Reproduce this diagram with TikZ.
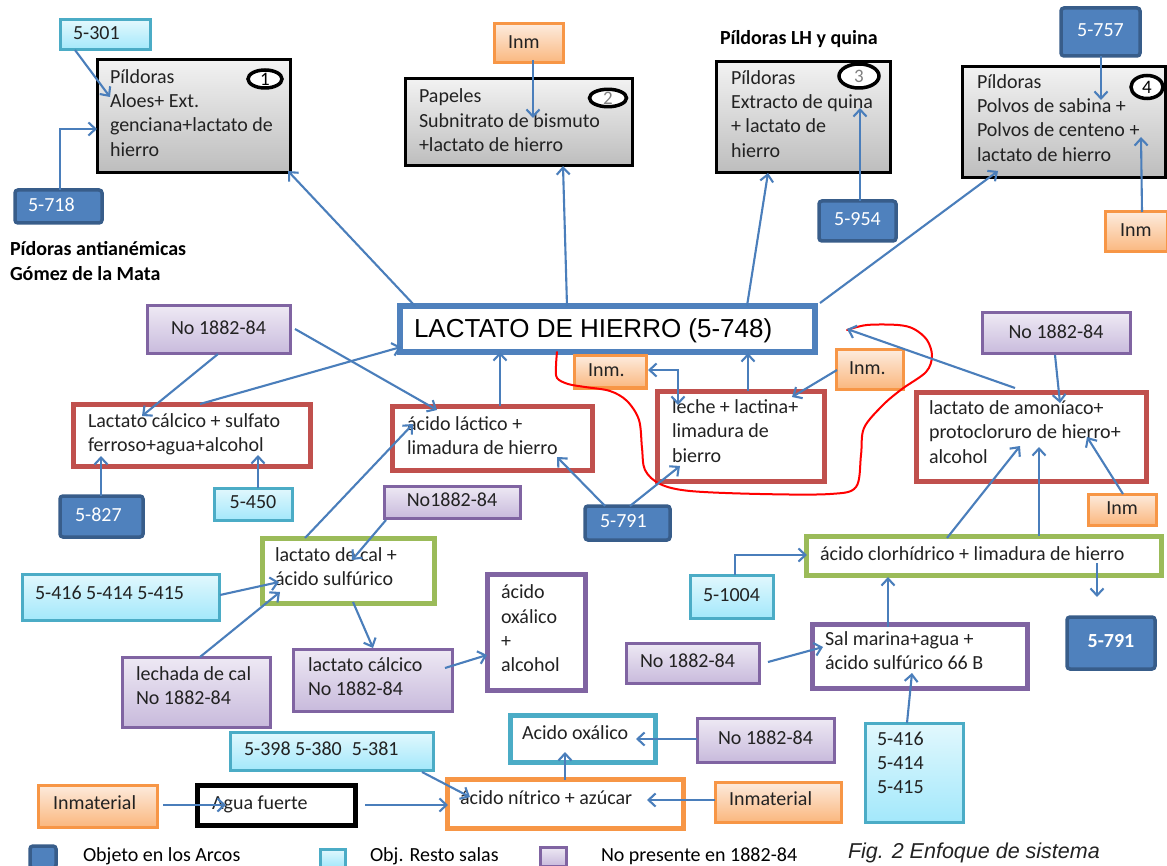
\documentclass[tikz,border=0pt]{standalone}
\usepackage{fontspec}
\setmainfont{Carlito}
\newfontfamily\arialf{Liberation Sans}
\usetikzlibrary{arrows.meta,calc,shapes.geometric}
\definecolor{arr}{HTML}{4A7EBB}
\definecolor{dkfill}{HTML}{4F81BD}
\definecolor{dkline}{HTML}{385D8A}
\definecolor{cytop}{HTML}{E2F8FD}
\definecolor{cybot}{HTML}{A3E8FB}
\definecolor{cyline}{HTML}{4BACC6}
\definecolor{putop}{HTML}{EEE9F4}
\definecolor{pubot}{HTML}{C8BADC}
\definecolor{puline}{HTML}{8064A2}
\definecolor{ortop}{HTML}{FDEBDD}
\definecolor{orbot}{HTML}{FAB77E}
\definecolor{orline}{HTML}{F79646}
\definecolor{grtop}{HTML}{F2F2F2}
\definecolor{grbot}{HTML}{BDBDBD}
\definecolor{redline}{HTML}{C0504D}
\definecolor{grnline}{HTML}{9BBB59}
\definecolor{txtc}{HTML}{222222}
\begin{document}
\begin{tikzpicture}[x=1pt,y=-1pt,
  every node/.style={inner sep=0pt,outer sep=0pt},
  darkbox/.style={anchor=north west,fill=dkfill,draw=dkline,line width=3.5pt,rounded corners=3pt},
  cyanbox/.style={anchor=north west,top color=cytop,bottom color=cybot,draw=cyline,line width=3pt},
  purbox/.style={anchor=north west,top color=putop,bottom color=pubot,draw=puline,line width=3pt},
  orabox/.style={anchor=north west,top color=ortop,bottom color=orbot,draw=orline,line width=3pt},
  graybox/.style={anchor=north west,top color=grtop,bottom color=grbot,draw=black,line width=3pt},
  framebox/.style={anchor=north west,fill=white,line width=5pt},
  txt/.style={anchor=west,align=left,text=txtc,font=\fontsize{20}{24.4}\selectfont,
    execute at begin node=\strut,execute at end node=\strut},
  ctxt/.style={txt,anchor=center,align=center},
  wtxt/.style={txt,text=white},
  wctxt/.style={ctxt,text=white},
  numc/.style={ellipse,draw=black,fill=white,line width=3.5pt,font=\fontsize{19}{19}\selectfont},
  ar/.style={draw=arr,line width=2.1pt,-{Straight Barb[length=7pt,width=13pt]}},
  arr2/.style={draw=arr,line width=2.1pt,{Straight Barb[length=7pt,width=13pt]}-{Straight Barb[length=7pt,width=13pt]}}
]
\useasboundingbox (0,0) rectangle (1167,866);
\fill[white] (0,0) rectangle (1167,866);

% ---------- top row ----------
\node[cyanbox,minimum width=90pt,minimum height=30pt] (b301) at (60,20) {};
\node[txt] (b301t) at ($(b301.west)+(13,0)$) {5-301};
\node[graybox,minimum width=193pt,minimum height=113pt] (p1) at (97,60) {};
\node[txt] (p1t) at ($(p1.west)+(13,0)$) {Píldoras\\Aloes+ Ext.\\genciana+lactato de\\hierro};
\node[numc,minimum width=34pt,minimum height=18pt] (c1) at (265,79) {1};
\node[darkbox,minimum width=87pt,minimum height=33pt] (b718) at (15,190) {};
\node[wtxt] (b718t) at ($(b718.west)+(13,0)$) {5-718};
\node[txt,text=black,font=\fontsize{20}{24.4}\selectfont\bfseries] (tit1) at (10,264.5) {Pídoras antianémicas\\Gómez de la Mata};

\node[orabox,minimum width=69pt,minimum height=39pt] (inm2) at (494,24) {};
\node[txt] (inm2t) at ($(inm2.west)+(14,0)$) {Inm};
\node[graybox,minimum width=227pt,minimum height=87pt] (p2) at (405,79) {};
\node[txt] (p2t) at ($(p2.west)+(14,1.5)$) {Papeles\\Subnitrato de bismuto\\+lactato de hierro};
\node[numc,minimum width=37pt,minimum height=17pt,text=gray] (c2) at (608,98) {2};

\node[txt,text=black,font=\fontsize{20}{24.4}\selectfont\bfseries] (tit2) at (720,40) {Píldoras LH y quina};
\node[graybox,minimum width=174pt,minimum height=111pt] (p3) at (716,62) {};
\node[txt] (p3t) at ($(p3.west)+(15,0)$) {Píldoras\\Extracto de quina\\+ lactato de\\hierro};
\node[numc,minimum width=40pt,minimum height=24pt,text=gray] (c3) at (859,76) {3};
\node[darkbox,minimum width=77pt,minimum height=40pt] (b954) at (819,201) {};
\node[wctxt] (b954t) at (b954.center) {5-954};

\node[darkbox,minimum width=79pt,minimum height=48pt] (b757) at (1061,8) {};
\node[wctxt] (b757t) at (b757.center) {5-757};
\node[graybox,minimum width=203pt,minimum height=111pt] (p4) at (962,67) {};
\node[txt] (p4t) at ($(p4.west)+(15,-1)$) {Píldoras\\Polvos de sabina +\\Polvos de centeno +\\lactato de hierro};
\node[numc,minimum width=32pt,minimum height=23pt] (c4) at (1147,87) {4};
\node[orabox,minimum width=62pt,minimum height=40pt] (inm4) at (1105,212) {};
\node[txt] (inm4t) at ($(inm4.west)+(15,0)$) {Inm};

% ---------- middle ----------
\node[framebox,draw=dkfill,line width=6pt,minimum width=415pt,minimum height=46pt] (main) at (400,306) {};
\node[anchor=base west,font=\arialf\fontsize{26}{30}\selectfont] (maint) at (414,338) {LACTATO DE HIERRO (5-748)};

\node[purbox,minimum width=143pt,minimum height=48pt] (no1) at (147,306) {};
\node[ctxt] (no1t) at (no1.center) {No 1882-84};
\node[framebox,draw=redline,minimum width=237pt,minimum height=62pt] (lcs) at (73,404) {};
\node[txt] (lcst) at ($(lcs.west)+(15,1)$) {Lactato cálcico + sulfato\\ferroso+agua+alcohol};
\node[darkbox,minimum width=83pt,minimum height=41pt] (b827) at (60,496) {};
\node[wtxt] (b827t) at ($(b827.west)+(15,0)$) {5-827};
\node[cyanbox,minimum width=78pt,minimum height=32pt] (b450) at (214,488) {};
\node[ctxt] (b450t) at (b450.center) {5-450};

\node[framebox,draw=redline,minimum width=200pt,minimum height=64pt] (ala) at (392,406) {};
\node[txt] (alat) at ($(ala.west)+(15,1)$) {ácido láctico +\\limadura de hierro};
\node[orabox,minimum width=72pt,minimum height=32pt] (inm5) at (574,356) {};
\node[txt] (inm5t) at ($(inm5.west)+(14,0)$) {Inm.};
\node[framebox,draw=redline,minimum width=167pt,minimum height=90pt] (lec) at (657,391) {};
\node[txt] (lect) at ($(lec.west)+(15,-1.5)$) {leche + lactina+\\limadura de\\bierro};
\node[orabox,minimum width=67pt,minimum height=39pt] (inm6) at (836,350) {};
\node[txt] (inm6t) at ($(inm6.west)+(13,0)$) {Inm.};
\node[darkbox,minimum width=85pt,minimum height=34pt] (b791a) at (585,506) {};
\node[wtxt] (b791at) at ($(b791a.west)+(15,0)$) {5-791};

\node[purbox,minimum width=148pt,minimum height=41pt] (no2) at (982,313) {};
\node[ctxt] (no2t) at (no2.center) {No 1882-84};
\node[framebox,draw=redline,minimum width=230pt,minimum height=89pt] (lam) at (916,392) {};
\node[txt] (lamt) at ($(lam.west)+(13,-1)$) {lactato de amoníaco+\\protocloruro de hierro+\\alcohol};
\node[orabox,minimum width=68pt,minimum height=31pt] (inm7) at (1088,494) {};
\node[ctxt] (inm7t) at (inm7.center) {Inm};

% ---------- lower left ----------
\node[purbox,minimum width=136pt,minimum height=32pt] (no3) at (384,486) {};
\node[ctxt] (no3t) at (no3.center) {No1882-84};
\node[framebox,draw=grnline,minimum width=172pt,minimum height=65pt] (lcal) at (262,538) {};
\node[txt] (lcalt) at ($(lcal.west)+(13,0)$) {lactato de cal +\\ácido sulfúrico};
\node[cyanbox,minimum width=197pt,minimum height=46pt] (b416a) at (22,574) {};
\node[txt] (b416at) at ($(b416a.west)+(13,-2)$) {5-416 5-414 5-415};
\node[purbox,minimum width=148pt,minimum height=70pt] (ldc) at (122,657) {};
\node[txt] (ldct) at ($(ldc.west)+(14,-3)$) {lechada de cal\\No 1882-84};
\node[purbox,minimum width=159pt,minimum height=62pt] (lcc) at (293,649) {};
\node[txt] (lcct) at ($(lcc.west)+(15,0)$) {lactato cálcico\\No 1882-84};
\node[framebox,draw=puline,minimum width=98pt,minimum height=116pt] (aox) at (487,574) {};
\node[txt] (aoxt) at ($(aox.west)+(14,0)$) {ácido\\oxálico\\+\\alcohol};

% ---------- lower right ----------
\node[framebox,draw=grnline,minimum width=355pt,minimum height=39pt] (ach) at (806,536) {};
\node[txt] (acht) at ($(ach.west)+(14,0)$) {ácido clorhídrico + limadura de hierro};
\node[cyanbox,minimum width=83pt,minimum height=43pt] (b1004) at (690,575) {};
\node[ctxt] (b1004t) at (b1004.center) {5-1004};
\node[darkbox,minimum width=88pt,minimum height=52pt] (b791b) at (1067,617) {};
\node[wctxt,font=\fontsize{20}{24.4}\selectfont\bfseries] (b791bt) at (b791b.center) {5-791};
\node[framebox,draw=puline,minimum width=215pt,minimum height=64pt] (sal) at (812,624) {};
\node[txt] (salt) at ($(sal.west)+(13,-1.5)$) {Sal marina+agua +\\ácido sulfúrico 66 B};
\node[purbox,minimum width=133pt,minimum height=40pt] (no4) at (626,643) {};
\node[txt] (no4t) at ($(no4.west)+(14,0)$) {No 1882-84};
\node[cyanbox,minimum width=98pt,minimum height=99pt] (b416b) at (865,723) {};
\node[txt] (b416bt) at ($(b416b.west)+(12,-6)$) {5-416\\5-414\\5-415};

% ---------- bottom ----------
\node[framebox,draw=cyline,minimum width=145pt,minimum height=47pt] (aoxb) at (510,715) {};
\node[txt] (aoxbt) at ($(aoxb.west)+(12,-3.5)$) {Acido oxálico};
\node[purbox,minimum width=137pt,minimum height=44pt] (no5) at (697,718) {};
\node[ctxt] (no5t) at (no5.center) {No 1882-84};
\node[framebox,draw=orline,minimum width=236pt,minimum height=49pt] (ani) at (447,779) {};
\node[txt] (anit) at ($(ani.west)+(13,-4)$) {ácido nítrico + azúcar};
\node[orabox,minimum width=126pt,minimum height=40pt] (inmb) at (715,782) {};
\node[txt] (inmbt) at ($(inmb.west)+(14,-1)$) {Inmaterial};
\node[cyanbox,minimum width=203pt,minimum height=38pt] (b398) at (230,732) {};
\node[txt] (b398t) at ($(b398.west)+(14,0)$) {5-398 5-380\enspace 5-381};
\node[orabox,minimum width=119pt,minimum height=42pt] (inmc) at (38,785) {};
\node[txt] (inmct) at ($(inmc.west)+(15,-1)$) {Inmaterial};
\node[framebox,draw=black,minimum width=158pt,minimum height=40pt] (agua) at (197,785) {};
\node[txt] (aguat) at ($(agua.west)+(15,0)$) {Agua fuerte};

% ---------- legend ----------
\node[darkbox,minimum width=26pt,minimum height=22pt] (lg1) at (30,846) {};
\node[txt,text=black] (lg1t) at (83,857) {Objeto en los Arcos};
\node[cyanbox,minimum width=25pt,minimum height=18pt] (lg2) at (320,849) {};
\node[txt,text=black] (lg2t) at (370,857) {Obj. Resto salas};
\node[purbox,minimum width=26pt,minimum height=19pt] (lg3) at (540,847) {};
\node[txt,text=black] (lg3t) at (601,857) {No presente en 1882-84};
\node[anchor=base west,font=\arialf\itshape\fontsize{21.5}{26}\selectfont,text=txtc] (fig) at (848,858) {Fig. 2 Enfoque de sistema};

% ---------- red freehand loop ----------
\draw[red,line width=2pt,line cap=round] plot[smooth,tension=0.55] coordinates {
 (557,352) (556,366) (557,378) (568,384) (585,387) (610,391) (627,401) (639,420) (642,448)
 (645,470) (660,484) (690,491) (760,494) (830,494) (856,487) (861,455) (864,428) (883,405)
 (902,389) (926,372) (932,356) (927,340) (914,329) (898,325) (867,325) (847,330)};

% ---------- connectors ----------
\draw[ar] ($(b301.south west)+(15,0)$) -- ($(p1.north west)+(13,37)$);
\draw[ar] ($(b718.north west)+(45,0)$) |- ($(p1.north west)+(0,69)$);
\draw[ar] ($(main.north west)+(15,0)$) -- ($(p1.south east)+(-2,-2)$);
\draw[ar] ($(inm2.north west)+(39,36)$) -- ($(p2.north west)+(128,39)$);
\draw[ar] ($(main.north west)+(167,0)$) -- ($(p2.north west)+(158,87)$);
\draw[ar] ($(main.north west)+(347,0)$) -- ($(p3.north west)+(52,111)$);
\draw[ar] ($(b954.north west)+(41,0)$) -- ($(p3.north west)+(144,46)$);
\draw[ar] ($(main.north east)+(5,-3)$) -- ($(p4.north west)+(36,104)$);
\draw[ar] ($(b757.north west)+(40,48)$) -- ($(p4.north west)+(139,33)$);
\draw[ar] ($(inm4.north west)+(37,0)$) -- ($(p4.north west)+(179,70)$);
\draw[ar] ($(no1.north west)+(71,48)$) -- ($(lcs.north west)+(69,12)$);
\draw[ar] ($(lcs.north west)+(127,0)$) -- ($(main.north west)+(1,41)$);
\draw[ar] ($(no1.north west)+(148,23)$) -- ($(ala.north west)+(45,4)$);
\draw[ar] ($(b827.north west)+(41,0)$) -- ($(lcs.north west)+(28,52)$);
\draw[ar] ($(b450.north west)+(44,0)$) -- ($(lcs.north west)+(185,51)$);
\draw[ar] ($(ala.north west)+(108,0)$) -- ($(main.north west)+(100,46)$);
\draw[ar] ($(lcal.north west)+(43,0)$) -- ($(ala.north west)+(21,18)$);
\draw[ar] ($(b791a.north west)+(20,0)$) -- ($(ala.north west)+(165,51)$);
\draw[ar] ($(b791a.north west)+(45,0)$) -- ($(lec.north west)+(23,75)$);
\draw[arr2] ($(inm5.north west)+(74,14)$) -| ($(lec.north west)+(21,14)$);
\draw[ar] ($(lec.north west)+(91,0)$) -- ($(main.north west)+(348,47)$);
\draw[ar] ($(inm6.north west)+(1,20)$) -- ($(lec.north west)+(135,6)$);
\draw[ar] ($(lam.north west)+(99,-4)$) -- ($(main.north east)+(32,23)$);
\draw[ar] ($(no2.north west)+(73,42)$) -- ($(lam.north west)+(144,11)$);
\draw[ar] ($(inm7.north west)+(35,0)$) -- ($(lam.north west)+(171,45)$);
\draw[ar] ($(ach.north west)+(141,2)$) -- ($(lam.north west)+(104,54)$);
\draw[ar] ($(ach.north west)+(233,0)$) -- ($(lam.north west)+(123,55)$);
\draw[ar] ($(no3.south west)+(2,2)$) -- ($(lcal.north west)+(90,22)$);
\draw[ar] ($(b416a.north west)+(198,21)$) -- ($(lcal.north west)+(17,44)$);
\draw[ar] ($(ldc.north west)+(78,0)$) -- ($(lcal.north west)+(18,54)$);
\draw[ar] ($(lcal.north west)+(91,64)$) -- ($(lcc.north west)+(80,-1)$);
\draw[ar] ($(lcc.north west)+(152,19)$) -- ($(aox.north west)+(0,81)$);
\draw[ar] ($(b1004.north west)+(45,0)$) |- ($(ach.north west)+(1,19)$);
\draw[ar] ($(ach.north west)+(291,27)$) -- ($(b791b.north west)+(30,-20)$);
\draw[ar] ($(sal.north west)+(76,3)$) -- ($(ach.north west)+(82,41)$);
\draw[ar] ($(no4.north west)+(142,19)$) -- ($(sal.north west)+(11,23)$);
\draw[ar] ($(b416b.north west)+(42,0)$) -- ($(sal.north west)+(100,49)$);
\draw[ar] ($(no5.north west)+(0,21)$) -- ($(aoxb.north west)+(126,24)$);
\draw[ar] ($(ani.north west)+(118,1)$) -- ($(aoxb.north west)+(55,37)$);
\draw[ar] ($(inmb.north west)+(0,18)$) -- ($(ani.north west)+(200,21)$);
\draw[ar] ($(b398.north west)+(192,40)$) -- ($(ani.north west)+(23,18)$);
\draw[ar] ($(inmc.north west)+(125,20)$) -- ($(agua.north west)+(29,20)$);
\draw[ar] ($(agua.north west)+(168,20)$) -- ($(ani.north west)+(1,26)$);
\end{tikzpicture}
\end{document}
